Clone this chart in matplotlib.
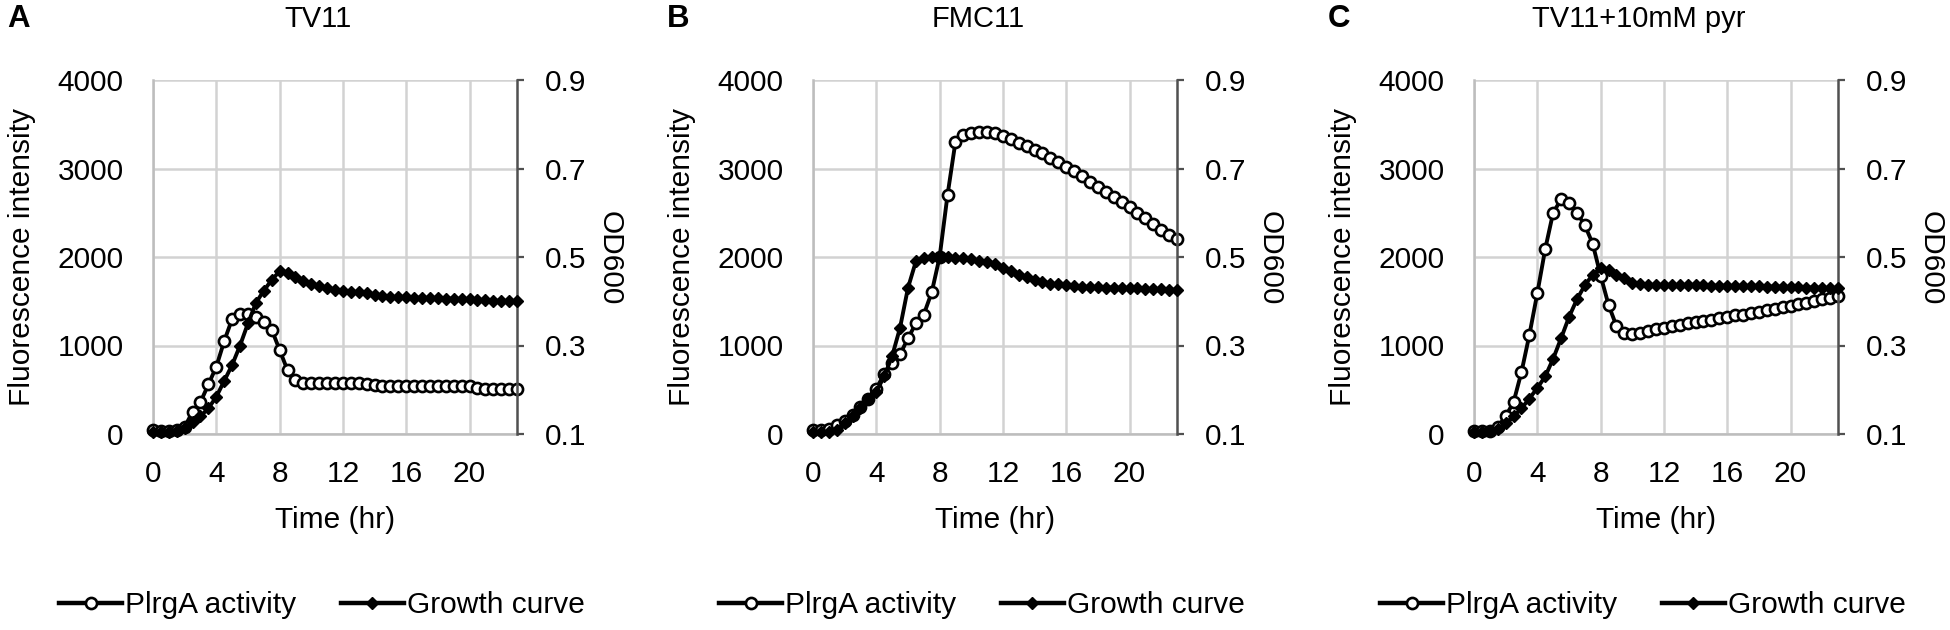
import matplotlib
matplotlib.use("Agg")
import matplotlib.pyplot as plt
from matplotlib.lines import Line2D

plt.rcParams['font.family'] = ['Liberation Sans', 'DejaVu Sans']

# sampling times (hr)
time_hr = [0, 0.5, 1, 1.5, 2, 2.5, 3, 3.5, 4, 4.5,
           5, 5.5, 6, 6.5, 7, 7.5, 8, 8.5, 9, 9.5,
           10, 10.5, 11, 11.5, 12, 12.5, 13, 13.5, 14, 14.5,
           15, 15.5, 16, 16.5, 17, 17.5, 18, 18.5, 19, 19.5,
           20, 20.5, 21, 21.5, 22, 22.5, 23]

# panel A - TV11
tv11_plrga = [40, 30, 30, 50, 80, 250, 360, 560, 760, 1050,
              1300, 1360, 1360, 1320, 1270, 1180, 950, 720, 610, 580,
              580, 580, 580, 575, 580, 580, 575, 570, 550, 545,
              545, 545, 540, 545, 545, 540, 545, 540, 545, 545,
              540, 520, 505, 505, 505, 505, 510]
tv11_od = [0.104, 0.104, 0.104, 0.106, 0.114, 0.126, 0.140, 0.158, 0.184, 0.220,
           0.256, 0.300, 0.350, 0.396, 0.424, 0.448, 0.468, 0.464, 0.454, 0.446,
           0.440, 0.434, 0.430, 0.426, 0.424, 0.422, 0.420, 0.418, 0.413, 0.411,
           0.410, 0.409, 0.409, 0.408, 0.408, 0.407, 0.407, 0.406, 0.406, 0.405,
           0.405, 0.403, 0.402, 0.401, 0.401, 0.400, 0.400]

# panel B - FMC11
fmc11_plrga = [40, 40, 60, 100, 150, 220, 300, 400, 510, 680,
               800, 900, 1080, 1250, 1350, 1600, 2000, 2700, 3300, 3380,
               3400, 3410, 3410, 3400, 3370, 3330, 3290, 3250, 3210, 3170,
               3120, 3070, 3020, 2970, 2910, 2850, 2790, 2740, 2680, 2620,
               2560, 2500, 2440, 2370, 2300, 2250, 2200]
fmc11_od = [0.104, 0.104, 0.105, 0.110, 0.124, 0.140, 0.158, 0.178, 0.196, 0.230,
            0.276, 0.340, 0.430, 0.490, 0.498, 0.500, 0.500, 0.499, 0.498, 0.497,
            0.495, 0.492, 0.488, 0.484, 0.476, 0.468, 0.460, 0.454, 0.448, 0.444,
            0.440, 0.438, 0.436, 0.434, 0.433, 0.432, 0.432, 0.431, 0.431, 0.430,
            0.430, 0.429, 0.428, 0.427, 0.427, 0.426, 0.426]

# panel C - TV11 + 10mM pyruvate
pyr_plrga = [30, 30, 30, 80, 200, 360, 700, 1120, 1590, 2090,
             2500, 2650, 2610, 2500, 2360, 2150, 1790, 1460, 1220, 1140,
             1130, 1140, 1160, 1190, 1200, 1220, 1230, 1250, 1260, 1280,
             1290, 1310, 1320, 1340, 1350, 1370, 1380, 1400, 1410, 1430,
             1450, 1470, 1480, 1500, 1520, 1540, 1560]
pyr_od = [0.104, 0.104, 0.106, 0.112, 0.124, 0.140, 0.158, 0.180, 0.204, 0.230,
          0.270, 0.316, 0.364, 0.404, 0.436, 0.460, 0.476, 0.470, 0.460, 0.452,
          0.442, 0.438, 0.436, 0.436, 0.436, 0.436, 0.436, 0.436, 0.436, 0.436,
          0.435, 0.435, 0.435, 0.434, 0.434, 0.434, 0.434, 0.433, 0.433, 0.433,
          0.432, 0.432, 0.431, 0.431, 0.430, 0.430, 0.430]

panels = [
    ('A', 'TV11', tv11_plrga, tv11_od),
    ('B', 'FMC11', fmc11_plrga, fmc11_od),
    ('C', 'TV11+10mM pyr', pyr_plrga, pyr_od),
]

left_ticks = [0, 1000, 2000, 3000, 4000]
right_ticks = [0.1, 0.3, 0.5, 0.7, 0.9]
x_ticks = [0, 4, 8, 12, 16, 20]

W, H = 1950, 630
fig = plt.figure(figsize=(19.5, 6.3), dpi=100)

# plot-area left edges in pixels
lefts = [153, 813, 1474]
pw, top, bottom = 364, 80, 434
FS = 21.5
grid_c = '#d2d2d2'


def fx(px):
    return px / W


def fy(py):
    return 1 - py / H


for (letter, title, plrga, od), lx in zip(panels, lefts):
    ax = fig.add_axes([fx(lx), fy(bottom), fx(pw), (bottom - top) / H])
    ax2 = ax.twinx()

    ax.set_xlim(0, 23)
    ax.set_ylim(0, 4000)
    ax.set_xticks(x_ticks)
    ax.set_yticks(left_ticks)
    ax.grid(True, color=grid_c, lw=1.8)
    ax.set_axisbelow(True)
    for s in ['top', 'right']:
        ax.spines[s].set_visible(False)
    for s in ['left', 'bottom']:
        ax.spines[s].set_color('#bdbdbd')
        ax.spines[s].set_linewidth(1.8)
    ax.tick_params(axis='both', length=0, labelsize=FS)
    ax.tick_params(axis='y', pad=21)
    ax.tick_params(axis='x', pad=19)

    ax.plot(time_hr, plrga, color='black', lw=2.8, marker='o', ms=8,
            mfc='white', mec='black', mew=1.9, clip_on=False, zorder=3)

    ax2.set_ylim(0.1, 0.9)
    ax2.set_yticks(right_ticks)
    ax2.set_yticklabels([f'{v:.1f}' for v in right_ticks])
    for s in ['top', 'left', 'bottom']:
        ax2.spines[s].set_visible(False)
    ax2.spines['right'].set_color('#505050')
    ax2.spines['right'].set_linewidth(1.8)
    ax2.tick_params(axis='y', length=5, width=1.6, color='#505050',
                    labelsize=FS, pad=15)
    ax2.plot(time_hr, od, color='black', lw=2.8, marker='D', ms=6,
             mfc='black', mec='black', clip_on=False, zorder=3)

    cx = lx + pw / 2
    fig.text(fx(lx - 131), fy(top + 177), 'Fluorescence intensity',
             rotation=90, ha='center', va='center', fontsize=FS)
    fig.text(fx(lx + pw + 93), fy(top + 178), 'OD600',
             rotation=-90, ha='center', va='center', fontsize=FS)
    fig.text(fx(cx), fy(520), 'Time (hr)', ha='center', va='center',
             fontsize=FS)
    fig.text(fx(cx - 17), fy(19), title, ha='center', va='center',
             fontsize=FS - 0.5)
    fig.text(fx(lx - 146), fy(19), letter, ha='left', va='center',
             fontsize=FS + 1, fontweight='bold')

    handles = [
        Line2D([], [], color='black', lw=3.2, marker='o', ms=8,
               mfc='white', mec='black', mew=1.9),
        Line2D([], [], color='black', lw=3.2, marker='D', ms=6,
               mfc='black', mec='black'),
    ]
    fig.legend(handles, ['PlrgA activity', 'Growth curve'], loc='center',
               bbox_to_anchor=(fx(cx - 13), fy(605)), ncol=2, frameon=False,
               fontsize=FS, handlelength=2.1, handletextpad=0.1,
               columnspacing=1.5, borderpad=0)

fig.savefig('out.png', dpi=100, facecolor='white')
